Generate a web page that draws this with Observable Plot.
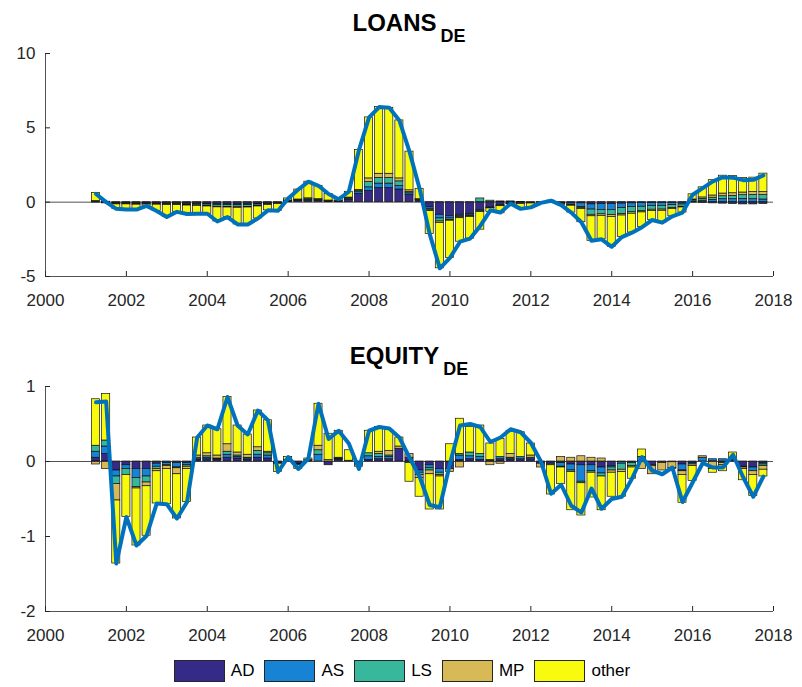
<!DOCTYPE html>
<html><head><meta charset="utf-8">
<script src="https://cdn.jsdelivr.net/npm/d3@7"></script>
<script src="https://cdn.jsdelivr.net/npm/@observablehq/plot@0.6"></script>
<style>
body{margin:0;background:#fff;font-family:"Liberation Sans",Arial,sans-serif;width:802px;height:687px;overflow:hidden;position:relative;}
#legend{position:absolute;left:1px;top:660px;width:802px;display:flex;justify-content:center;align-items:center;font-size:17px;color:#000;}
.item{display:flex;align-items:center;margin:0 5px;}
.sw{width:49px;height:20px;border:1px solid #262626;margin-right:6px;}
svg{display:block;}
</style></head><body><div id="chart"></div><div id="legend"></div>
<script>
const quarters = [2001.25,2001.5,2001.75,
 2002,2002.25,2002.5,2002.75, 2003,2003.25,2003.5,2003.75, 2004,2004.25,2004.5,2004.75,
 2005,2005.25,2005.5,2005.75, 2006,2006.25,2006.5,2006.75, 2007,2007.25,2007.5,2007.75,
 2008,2008.25,2008.5,2008.75, 2009,2009.25,2009.5,2009.75, 2010,2010.25,2010.5,2010.75,
 2011,2011.25,2011.5,2011.75, 2012,2012.25,2012.5,2012.75, 2013,2013.25,2013.5,2013.75,
 2014,2014.25,2014.5,2014.75, 2015,2015.25,2015.5,2015.75, 2016,2016.25,2016.5,2016.75,
 2017,2017.25,2017.5,2017.75];
const seriesNames = ["AD","AS","LS","MP","other"];
const seriesColors = ["#352a87","#1783d5","#37b89d","#d7ba55","#f9fb0e"];
const xTicks = [2000,2002,2004,2006,2008,2010,2012,2014,2016,2018];
const loansTicksY = [-5,0,5,10];
const equityTicksY = [-2,-1,0,1];

// LOANS_DE
const loansTotal = [0.55,0.0,-0.45,-0.5,-0.5,-0.25,-0.6,-1.0,-0.65,-0.8,
 -0.78,-0.78,-1.3,-1.0,-1.5,-1.5,-1.1,-0.55,-0.58,0.25,
 0.85,1.38,1.1,0.55,0.2,0.7,3.5,5.7,6.4,6.35,
 5.5,3.4,0.9,-2.15,-4.45,-3.75,-2.66,-2.45,-1.6,-0.55,
 -0.7,-0.1,-0.45,-0.35,-0.05,0.1,-0.2,-0.7,-1.35,-2.6,
 -2.5,-3.0,-2.35,-2.05,-1.68,-1.2,-1.38,-0.95,-0.7,0.5,
 0.95,1.4,1.68,1.65,1.48,1.5,1.8];
const loansAD = [0.05,-0.04,-0.06,-0.06,-0.07,-0.07,-0.07,-0.08,-0.08,-0.09,
 -0.10,-0.12,-0.14,-0.15,-0.16,-0.15,-0.12,-0.08,-0.05,0.05,
 0.08,0.10,0.08,0.05,0.04,0.15,0.55,0.75,0.95,0.95,
 0.85,0.50,0.10,-0.35,-0.85,-0.95,-0.85,-0.80,-0.55,-0.35,
 -0.20,-0.10,-0.08,-0.05,-0.03,0.02,-0.05,-0.05,-0.08,-0.15,
 -0.12,-0.12,-0.10,-0.08,-0.06,-0.06,-0.05,-0.05,-0.04,-0.03,
 -0.05,-0.08,-0.10,-0.12,-0.15,-0.15,-0.12];
const loansAS = [0.02,-0.02,-0.03,-0.03,-0.03,-0.02,-0.03,-0.03,-0.03,-0.04,
 -0.04,-0.04,-0.05,-0.05,-0.05,-0.05,-0.04,-0.03,-0.02,0.03,
 0.04,0.06,0.05,0.03,0.02,0.08,0.12,0.25,0.30,0.30,
 0.25,0.10,0.05,-0.10,-0.25,-0.15,-0.10,-0.10,-0.08,-0.05,
 -0.05,-0.03,-0.03,-0.03,-0.02,0.00,-0.03,-0.12,-0.25,-0.35,
 -0.40,-0.40,-0.30,-0.25,-0.25,-0.20,-0.20,-0.15,-0.12,0.05,
 0.10,0.15,0.20,0.20,0.22,0.20,0.18];
const loansLS = [-0.03,-0.02,-0.04,-0.04,-0.05,-0.05,-0.05,-0.06,-0.06,-0.07,
 -0.08,-0.10,-0.12,-0.12,-0.13,-0.12,-0.10,-0.06,-0.04,0.03,
 0.05,0.08,0.06,0.03,0.02,0.06,0.10,0.35,0.38,0.38,
 0.30,0.08,0.02,-0.10,-0.20,-0.10,-0.05,-0.05,0.25,0.10,
 0.05,0.05,0.02,0.00,0.00,0.03,-0.02,-0.05,-0.08,-0.35,
 -0.30,-0.35,-0.40,-0.35,-0.30,-0.25,-0.25,-0.20,-0.15,0.08,
 0.12,0.15,0.20,0.22,0.25,0.28,0.30];
const loansMP = [0.00,0.00,-0.02,-0.02,-0.02,-0.02,-0.02,-0.03,-0.03,-0.03,
 -0.03,-0.03,-0.04,-0.04,-0.04,-0.04,-0.03,-0.02,-0.02,0.00,
 0.01,0.02,0.01,0.00,0.00,0.02,0.05,0.25,0.28,0.28,
 0.20,0.12,0.03,-0.05,-0.10,-0.05,-0.08,-0.05,-0.03,-0.02,
 -0.02,0.00,-0.01,-0.01,0.00,0.05,-0.02,-0.02,-0.05,-0.10,
 -0.10,-0.12,-0.10,-0.10,-0.08,-0.08,-0.08,-0.06,-0.05,0.05,
 0.10,0.15,0.18,0.18,0.18,0.20,0.20];
const loansOther = [0.55,0.03,-0.30,-0.35,-0.33,-0.09,-0.43,-0.80,-0.45,-0.57,
 -0.53,-0.49,-0.95,-0.64,-1.12,-1.14,-0.81,-0.36,-0.45,0.14,
 0.67,1.12,0.90,0.44,0.12,0.39,2.68,4.10,4.49,4.44,
 3.90,2.60,0.70,-1.55,-3.05,-2.50,-1.58,-1.45,-1.19,-0.23,
 -0.48,-0.02,-0.35,-0.26,0.00,0.00,-0.08,-0.46,-0.89,-1.65,
 -1.58,-2.01,-1.45,-1.27,-0.99,-0.61,-0.80,-0.49,-0.34,0.35,
 0.68,1.03,1.20,1.17,0.98,0.97,1.24];

// EQUITY_DE
const equityTotal = [0.79,0.80,-1.36,-0.74,-1.12,-0.99,-0.56,-0.57,-0.76,-0.54,
 0.32,0.48,0.43,0.86,0.48,0.36,0.68,0.55,-0.14,0.06,
 -0.10,0.04,0.77,0.30,0.41,0.24,-0.10,0.41,0.46,0.44,
 0.32,0.05,-0.20,-0.58,-0.61,-0.03,0.48,0.50,0.46,0.26,
 0.32,0.43,0.39,0.25,0.00,-0.43,-0.31,-0.59,-0.68,-0.36,
 -0.63,-0.50,-0.47,-0.23,0.06,-0.12,-0.17,-0.08,-0.54,-0.28,
 -0.02,-0.08,-0.08,0.09,-0.21,-0.47,-0.20];
const equityAD = [0.05,0.10,-0.12,-0.05,-0.10,-0.10,-0.03,-0.02,-0.02,-0.02,
 0.02,0.03,0.02,0.05,0.04,0.02,0.05,0.04,-0.02,0.01,
 -0.03,0.01,0.00,-0.05,0.02,0.01,-0.03,0.02,0.03,0.03,
 0.17,0.05,-0.12,-0.05,-0.10,-0.10,0.02,0.03,0.02,0.02,
 0.03,0.02,0.03,0.03,-0.03,-0.03,-0.02,-0.04,-0.05,-0.05,
 -0.08,-0.06,-0.01,-0.01,0.00,-0.05,-0.02,-0.01,-0.04,-0.02,
 0.00,0.00,-0.02,0.00,-0.07,-0.08,-0.02];
const equityAS = [0.08,0.10,-0.08,-0.05,-0.12,-0.10,-0.04,-0.03,-0.06,-0.03,
 0.01,0.02,0.01,0.04,0.02,0.02,0.04,0.04,-0.01,0.01,
 -0.01,0.01,0.09,0.00,0.01,0.00,-0.01,0.05,0.03,0.03,
 0.00,-0.02,-0.03,-0.04,-0.05,0.00,0.06,0.04,0.04,0.00,
 0.03,0.02,0.03,0.02,0.00,-0.02,-0.05,-0.08,-0.22,-0.08,
 -0.08,-0.02,-0.02,-0.01,0.06,-0.01,0.00,0.00,-0.08,-0.02,
 0.05,0.03,0.03,0.01,-0.01,-0.05,-0.02];
const equityLS = [0.08,0.08,-0.10,-0.08,-0.12,-0.08,-0.03,-0.01,-0.01,-0.02,
 0.02,0.02,0.01,0.04,0.02,0.01,0.05,0.03,0.00,0.00,
 -0.01,0.00,0.06,0.00,0.01,0.00,0.00,0.04,0.04,0.02,
 0.00,0.00,-0.03,-0.03,-0.03,0.00,0.02,0.05,0.04,0.00,
 0.00,0.01,0.00,0.00,0.00,0.00,-0.01,-0.02,-0.02,-0.02,
 -0.04,-0.04,-0.08,-0.04,0.00,0.00,0.00,0.00,-0.01,0.00,
 0.00,0.00,0.00,0.00,0.00,0.00,-0.02];
const equityMP = [-0.04,-0.10,-0.22,0.00,-0.02,-0.05,-0.03,-0.04,-0.08,-0.03,
 0.03,0.04,0.04,0.10,0.04,0.04,0.05,0.02,0.00,0.00,
 0.00,0.00,0.06,0.02,0.01,0.00,0.00,0.00,0.03,0.06,
 0.03,0.05,-0.04,-0.05,-0.02,-0.04,-0.08,0.00,0.00,-0.05,
 -0.03,0.05,0.00,0.03,-0.05,0.00,0.06,0.05,0.07,0.05,
 0.04,-0.03,-0.03,-0.02,-0.10,-0.11,-0.10,-0.08,-0.05,-0.02,
 0.02,-0.10,-0.03,0.01,-0.02,-0.05,-0.05];
const equityOther = [0.62,0.62,-0.84,-0.56,-0.76,-0.66,-0.43,-0.47,-0.59,-0.44,
 0.24,0.37,0.35,0.63,0.36,0.27,0.49,0.42,-0.11,0.04,
 -0.05,0.02,0.56,0.35,0.36,0.14,-0.03,0.30,0.33,0.28,
 0.12,-0.25,-0.25,-0.47,-0.44,0.23,0.47,0.34,0.38,0.22,
 0.24,0.31,0.33,0.16,0.00,-0.39,-0.22,-0.51,-0.43,-0.33,
 -0.45,-0.32,-0.33,-0.15,0.10,0.00,0.00,-0.01,-0.37,-0.20,
 0.00,-0.05,-0.08,0.10,-0.15,-0.28,-0.09];

const FONT = '"Liberation Sans", Arial, Helvetica, sans-serif';

function panel({title, sub, comps, total, yTicks, height, marginTop, marginBottom}) {
  const rows = [];
  seriesNames.forEach((s, k) => comps[k].forEach((v, i) => rows.push({t: quarters[i], series: s, value: v})));
  const line = total.map((v, i) => ({t: quarters[i], value: v}));
  const fmt = d => String(d);
  const svg = Plot.plot({
    width: 802, height, marginLeft: 45, marginRight: 29, marginTop, marginBottom,
    style: {fontFamily: FONT, fontSize: "17px", color: "#262626", background: "white", overflow: "visible"},
    x: {domain: [xTicks[0], xTicks[xTicks.length - 1]], label: null},
    y: {domain: [yTicks[0], yTicks[yTicks.length - 1]], label: null},
    color: {domain: seriesNames, range: seriesColors},
    marks: [
      Plot.rectY(rows, {x1: d => d.t - 0.1, x2: d => d.t + 0.1, y: "value", fill: "series",
        stroke: "#111", strokeWidth: 0.7}),
      Plot.ruleY([0], {stroke: "#262626", strokeWidth: 0.8}),
      Plot.line(line, {x: "t", y: "value", stroke: "#0072bd", strokeWidth: 4, strokeLinejoin: "round", strokeLinecap: "round"}),
      Plot.ruleX([xTicks[0]], {stroke: "#262626", strokeWidth: 0.8}),
      Plot.ruleY([yTicks[0]], {stroke: "#262626", strokeWidth: 0.8}),
      Plot.axisX({ticks: xTicks, tickSize: -5, tickPadding: 22, tickFormat: fmt, label: null, stroke: "#262626", fill: "#262626"}),
      Plot.axisY({ticks: yTicks, tickSize: -5, tickPadding: 15, tickFormat: fmt, label: null, stroke: "#262626", fill: "#262626"})
    ]
  });
  const t = d3.select(svg).append("text")
    .attr("x", 409).attr("y", marginTop - 22)
    .attr("text-anchor", "middle")
    .attr("font-family", FONT).attr("font-weight", "bold").attr("font-size", 24).attr("fill", "#000")
    .text(title);
  t.append("tspan").attr("dx", 4).attr("dy", 11).attr("font-size", 18).text(sub);
  return svg;
}

const chart = document.getElementById("chart");
chart.appendChild(panel({title: "LOANS", sub: "DE",
  comps: [loansAD, loansAS, loansLS, loansMP, loansOther], total: loansTotal,
  yTicks: loansTicksY, height: 310, marginTop: 53, marginBottom: 34}));
chart.appendChild(panel({title: "EQUITY", sub: "DE",
  comps: [equityAD, equityAS, equityLS, equityMP, equityOther], total: equityTotal,
  yTicks: equityTicksY, height: 330, marginTop: 76, marginBottom: 29}));

const legend = document.getElementById("legend");
seriesNames.forEach((s, k) => {
  const it = document.createElement("div"); it.className = "item";
  const sw = document.createElement("div"); sw.className = "sw"; sw.style.background = seriesColors[k];
  const lb = document.createElement("span"); lb.textContent = s;
  it.appendChild(sw); it.appendChild(lb); legend.appendChild(it);
});
</script></body></html>
